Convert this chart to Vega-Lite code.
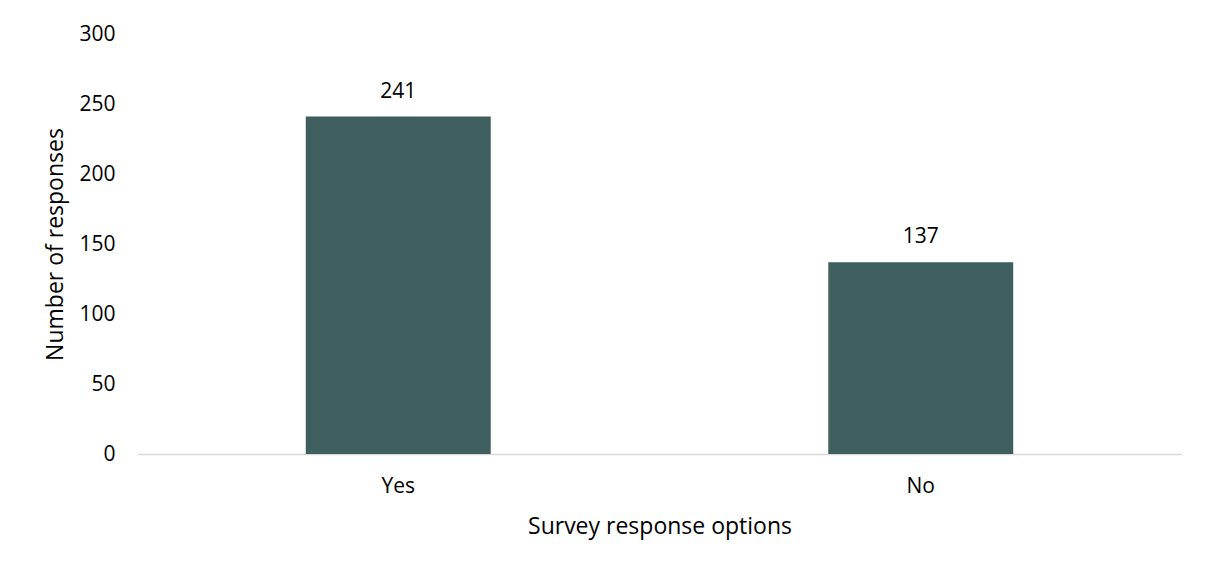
{
  "$schema": "https://vega.github.io/schema/vega-lite/v6.json",
  "autosize": {"type": "none"},
  "width": 1045,
  "height": 420,
  "padding": {"left": 137, "top": 34, "right": 24, "bottom": 116},
  "background": "white",
  "config": {
    "view": {"stroke": null},
    "font": "Open Sans",
    "axis": {"labelFont": "Open Sans", "titleFont": "Open Sans", "labelColor": "#000000", "titleColor": "#000000", "titleFontWeight": "normal"}
  },
  "data": {
    "values": [
      {"option": "Yes", "count": 241},
      {"option": "No", "count": 137}
    ]
  },
  "encoding": {
    "x": {
      "field": "option",
      "type": "nominal",
      "sort": null,
      "scale": {"paddingInner": 0.646, "paddingOuter": 0.323},
      "axis": {
        "title": "Survey response options",
        "labelAngle": 0,
        "labelFontSize": 21,
        "titleFontSize": 23,
        "ticks": false,
        "domainColor": "#d9d9d9",
        "domainWidth": 1.5,
        "labelBaseline": "alphabetic",
        "labelPadding": 38,
        "titleBaseline": "alphabetic",
        "titleY": 79
      }
    },
    "y": {
      "field": "count",
      "type": "quantitative",
      "scale": {"domain": [0, 300]},
      "axis": {
        "title": "Number of responses",
        "values": [0, 50, 100, 150, 200, 250, 300],
        "labelFontSize": 21,
        "titleFontSize": 23,
        "ticks": false,
        "domain": false,
        "grid": false,
        "labelPadding": 22,
        "titlePadding": 11
      }
    }
  },
  "layer": [
    {"mark": {"type": "bar", "color": "#3f5e5e"}},
    {
      "mark": {"type": "text", "baseline": "alphabetic", "dy": -19, "fontSize": 21, "font": "Open Sans", "color": "#000000"},
      "encoding": {"text": {"field": "count", "type": "quantitative"}}
    }
  ]
}
